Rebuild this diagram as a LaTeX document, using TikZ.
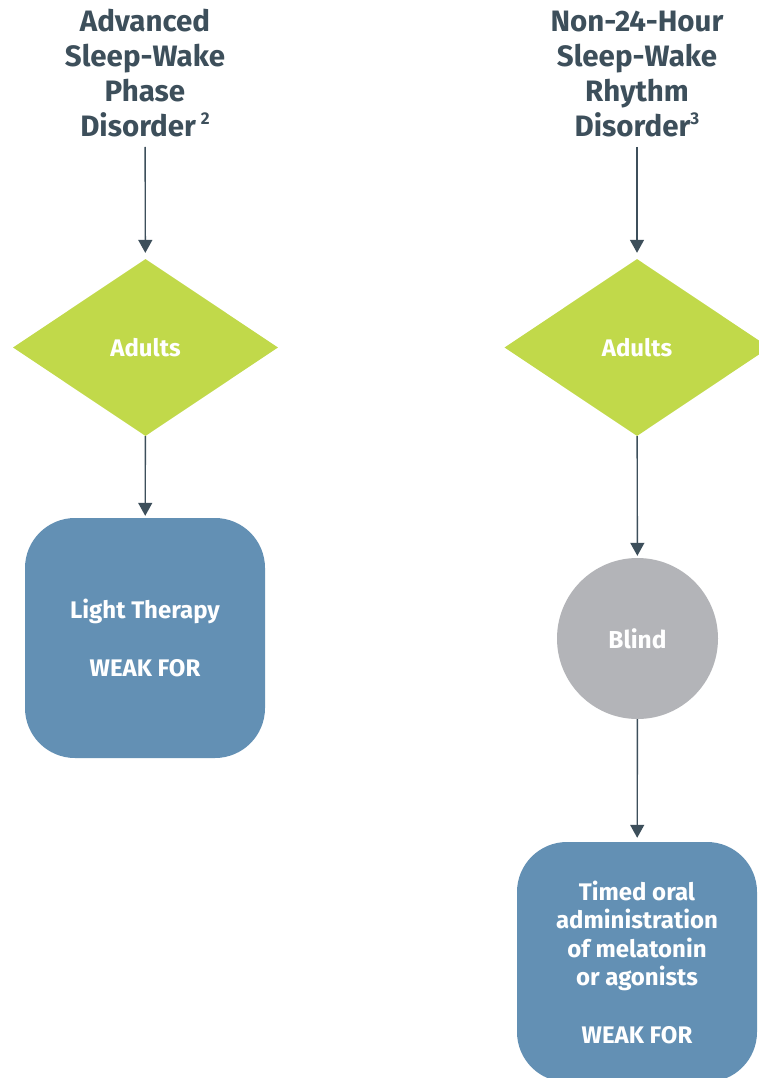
\documentclass[tikz,border=0pt]{standalone}
\usepackage{fontspec}
\setmainfont{Fira Sans}
\usetikzlibrary{shapes.geometric,arrows.meta}
\definecolor{ink}{HTML}{3D4F5B}
\definecolor{lime}{HTML}{C1D94A}
\definecolor{steel}{HTML}{6390B4}
\definecolor{greyc}{HTML}{B3B4B8}
\tikzset{
  title/.style={anchor=south, inner sep=0pt, align=center, text=ink,
    font=\fontsize{29.5}{35}\bfseries\selectfont},
  choice/.style={diamond, fill=lime, inner sep=0pt, minimum width=265pt,
    minimum height=177pt, text=white, font=\fontsize{24}{28}\bfseries\selectfont},
  group/.style={circle, fill=greyc, inner sep=0pt, minimum size=161pt,
    text=white, font=\fontsize{24.5}{28}\bfseries\selectfont},
  advice/.style={rectangle, rounded corners=50pt, fill=steel, inner sep=0pt,
    minimum width=240pt, minimum height=240pt, align=center, text=white,
    font=\fontsize{24}{28.6}\bfseries\selectfont},
  arr/.style={draw=ink, line width=1.4pt, -{Triangle[width=14pt,length=13pt]}}
}
\begin{document}
\begin{tikzpicture}[x=1pt,y=-1pt]
\clip (0,0) rectangle (759,1078);
\fill[white] (0,0) rectangle (759,1078);
% left column
\node[title] (t1) at (145,137) {Advanced\\Sleep-Wake\\Phase\\Disorder\,\raisebox{0.4em}{\fontsize{17}{17}\selectfont 2}};
\node[choice] (d1) at (145.5,347.5) {Adults};
\node[advice] (b1) at (145,638) {Light Therapy\\[28.6pt]WEAK FOR};
% right column
\node[title] (t2) at (637,137) {Non-24-Hour\\Sleep-Wake\\Rhythm\\Disorder\raisebox{0.4em}{\fontsize{17}{17}\selectfont 3}};
\node[choice] (d2) at (637,347.5) {Adults};
\node[group] (c2) at (637.5,638.5) {Blind};
\node[advice] (b2) at (637,962) {Timed oral\\administration\\of melatonin\\or agonists\\[28.6pt]WEAK FOR};
% connectors
\draw[arr, shorten <=10pt, shorten >=6pt] (t1) -- (d1);
\draw[arr, shorten >=2pt] (d1) -- (b1);
\draw[arr, shorten <=10pt, shorten >=6pt] (t2) -- (d2);
\draw[arr, shorten >=2pt] (d2) -- (c2);
\draw[arr, shorten >=4pt] (c2) -- (b2);
\end{tikzpicture}
\end{document}
